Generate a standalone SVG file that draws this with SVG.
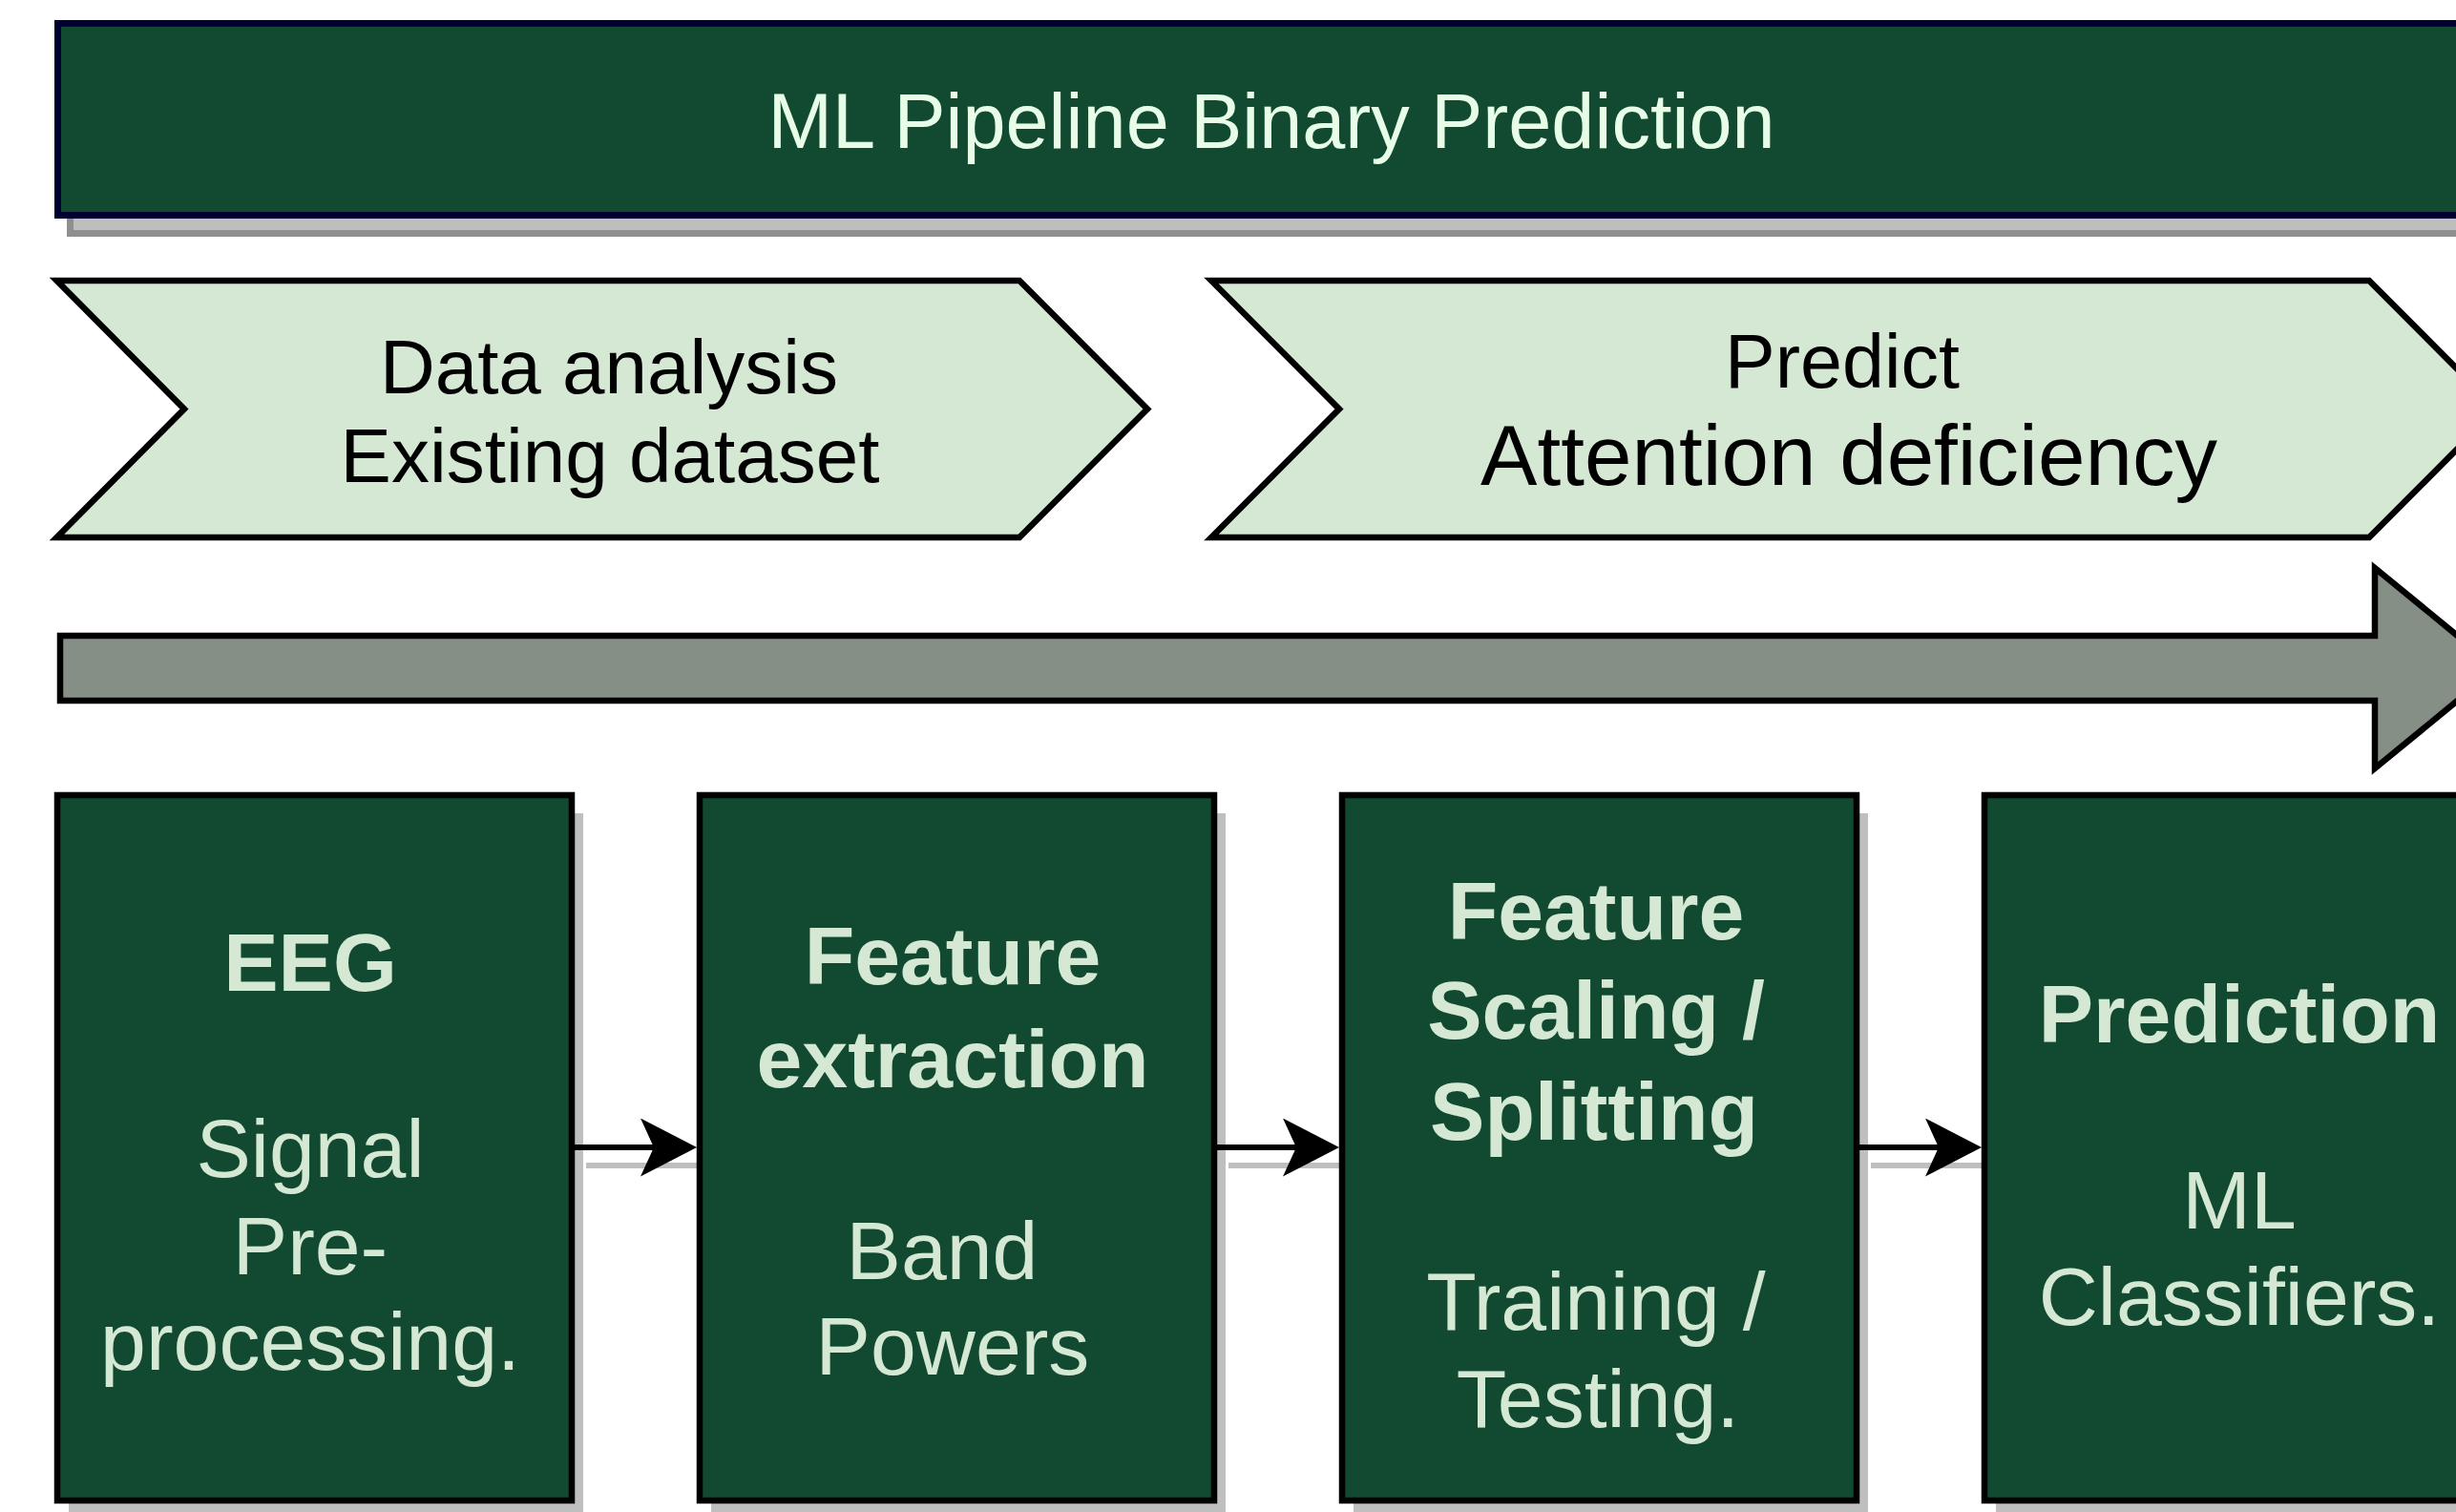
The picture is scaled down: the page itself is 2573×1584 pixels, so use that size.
<svg xmlns="http://www.w3.org/2000/svg" width="2573" height="1584" viewBox="0 0 2573 1584">
<style>
.title{fill:#114A30;stroke:#000033;stroke-width:7}
.tshadow{fill:#BEBEBE;stroke:#8F8F8F;stroke-width:7}
.phase{fill:#D5E8D4;stroke:#000;stroke-width:6.5;stroke-linejoin:miter}
.flow{fill:#868F85;stroke:#000;stroke-width:6.5}
.box{fill:#114A30;stroke:#000;stroke-width:6.5}
.shadow{fill:#BFBFBF}
.sline{stroke:#BFBFBF;stroke-width:6;fill:none}
.conn{stroke:#000;stroke-width:6;fill:none}
text{font-family:"Liberation Sans",Arial,Helvetica,sans-serif;text-anchor:middle}
.tt{font-size:81px;fill:#E8FDE8}
.pt{fill:#000}
.bt{font-size:86px;fill:#D5E8D4}
.b{font-weight:bold}
</style>
<defs>
<marker id="arrow" viewBox="0 0 59 61" refX="29" refY="30.5" markerWidth="59" markerHeight="61" markerUnits="userSpaceOnUse" orient="auto">
<path d="M0,0 L59,30.5 L0,61 L14,30.5 Z" fill="#000"/>
</marker>
</defs>

<g id="title">
<rect class="tshadow" x="73.5" y="43.5" width="2600" height="201"/>
<rect class="title" x="60.5" y="24.5" width="2600" height="201"/>
<text class="tt" x="1332" y="155">ML Pipeline Binary Prediction</text>
</g>

<g id="phase-data-analysis">
<path class="phase" d="M59.5,294 L1068,294 L1202,428.5 L1068,563 L59.5,563 L193,428.5 Z"/>
<text class="pt" x="638" y="412" font-size="80">Data analysis</text>
<text class="pt" x="639" y="505" font-size="80">Existing dataset</text>
</g>

<g id="phase-predict">
<path class="phase" d="M1269,294 L2482,294 L2616,428.5 L2482,563 L1269,563 L1403,428.5 Z"/>
<text class="pt" x="1930" y="406" font-size="79">Predict</text>
<text class="pt" x="1937" y="508" font-size="89">Attention deficiency</text>
</g>

<g id="flow-arrow">
<path class="flow" d="M63,666 L2488,666 L2488,595 L2616,700 L2488,805 L2488,734 L63,734 Z"/>
</g>

<g id="shadows">
<rect class="shadow" x="72" y="852" width="539" height="739"/>
<rect class="shadow" x="745" y="852" width="539" height="739"/>
<rect class="shadow" x="1418" y="852" width="539" height="739"/>
<rect class="shadow" x="2091" y="852" width="539" height="739"/>
<line class="sline" x1="614" y1="1221" x2="733" y2="1221"/>
<line class="sline" x1="1287" y1="1221" x2="1406" y2="1221"/>
<line class="sline" x1="1960" y1="1221" x2="2079" y2="1221"/>
</g>

<g id="node-eeg">
<rect class="box" x="60" y="833" width="539" height="739"/>
<text class="bt b" x="325" y="1038">EEG</text>
<text class="bt" x="325" y="1233">Signal</text>
<text class="bt" x="325" y="1335">Pre-</text>
<text class="bt" x="325" y="1435">processing.</text>
</g>

<g id="node-feature-extraction">
<rect class="box" x="733" y="833" width="539" height="739"/>
<text class="bt b" x="998" y="1031">Feature</text>
<text class="bt b" x="998" y="1139">extraction</text>
<text class="bt" x="987" y="1340">Band</text>
<text class="bt" x="998" y="1440">Powers</text>
</g>

<g id="node-feature-scaling">
<rect class="box" x="1406" y="833" width="539" height="739"/>
<text class="bt b" x="1672" y="984">Feature</text>
<text class="bt b" x="1672" y="1088">Scaling /</text>
<text class="bt b" x="1670" y="1194">Splitting</text>
<text class="bt" x="1672" y="1393">Training /</text>
<text class="bt" x="1674" y="1495">Testing.</text>
</g>

<g id="node-prediction">
<rect class="box" x="2079" y="833" width="539" height="739"/>
<text class="bt b" x="2346" y="1092">Prediction</text>
<text class="bt" x="2346" y="1287">ML</text>
<text class="bt" x="2346" y="1388">Classifiers.</text>
</g>

<g id="connectors">
<line class="conn" x1="602" y1="1202" x2="700" y2="1202" marker-end="url(#arrow)"/>
<line class="conn" x1="1275" y1="1202" x2="1373" y2="1202" marker-end="url(#arrow)"/>
<line class="conn" x1="1948" y1="1202" x2="2046" y2="1202" marker-end="url(#arrow)"/>
</g>
</svg>
